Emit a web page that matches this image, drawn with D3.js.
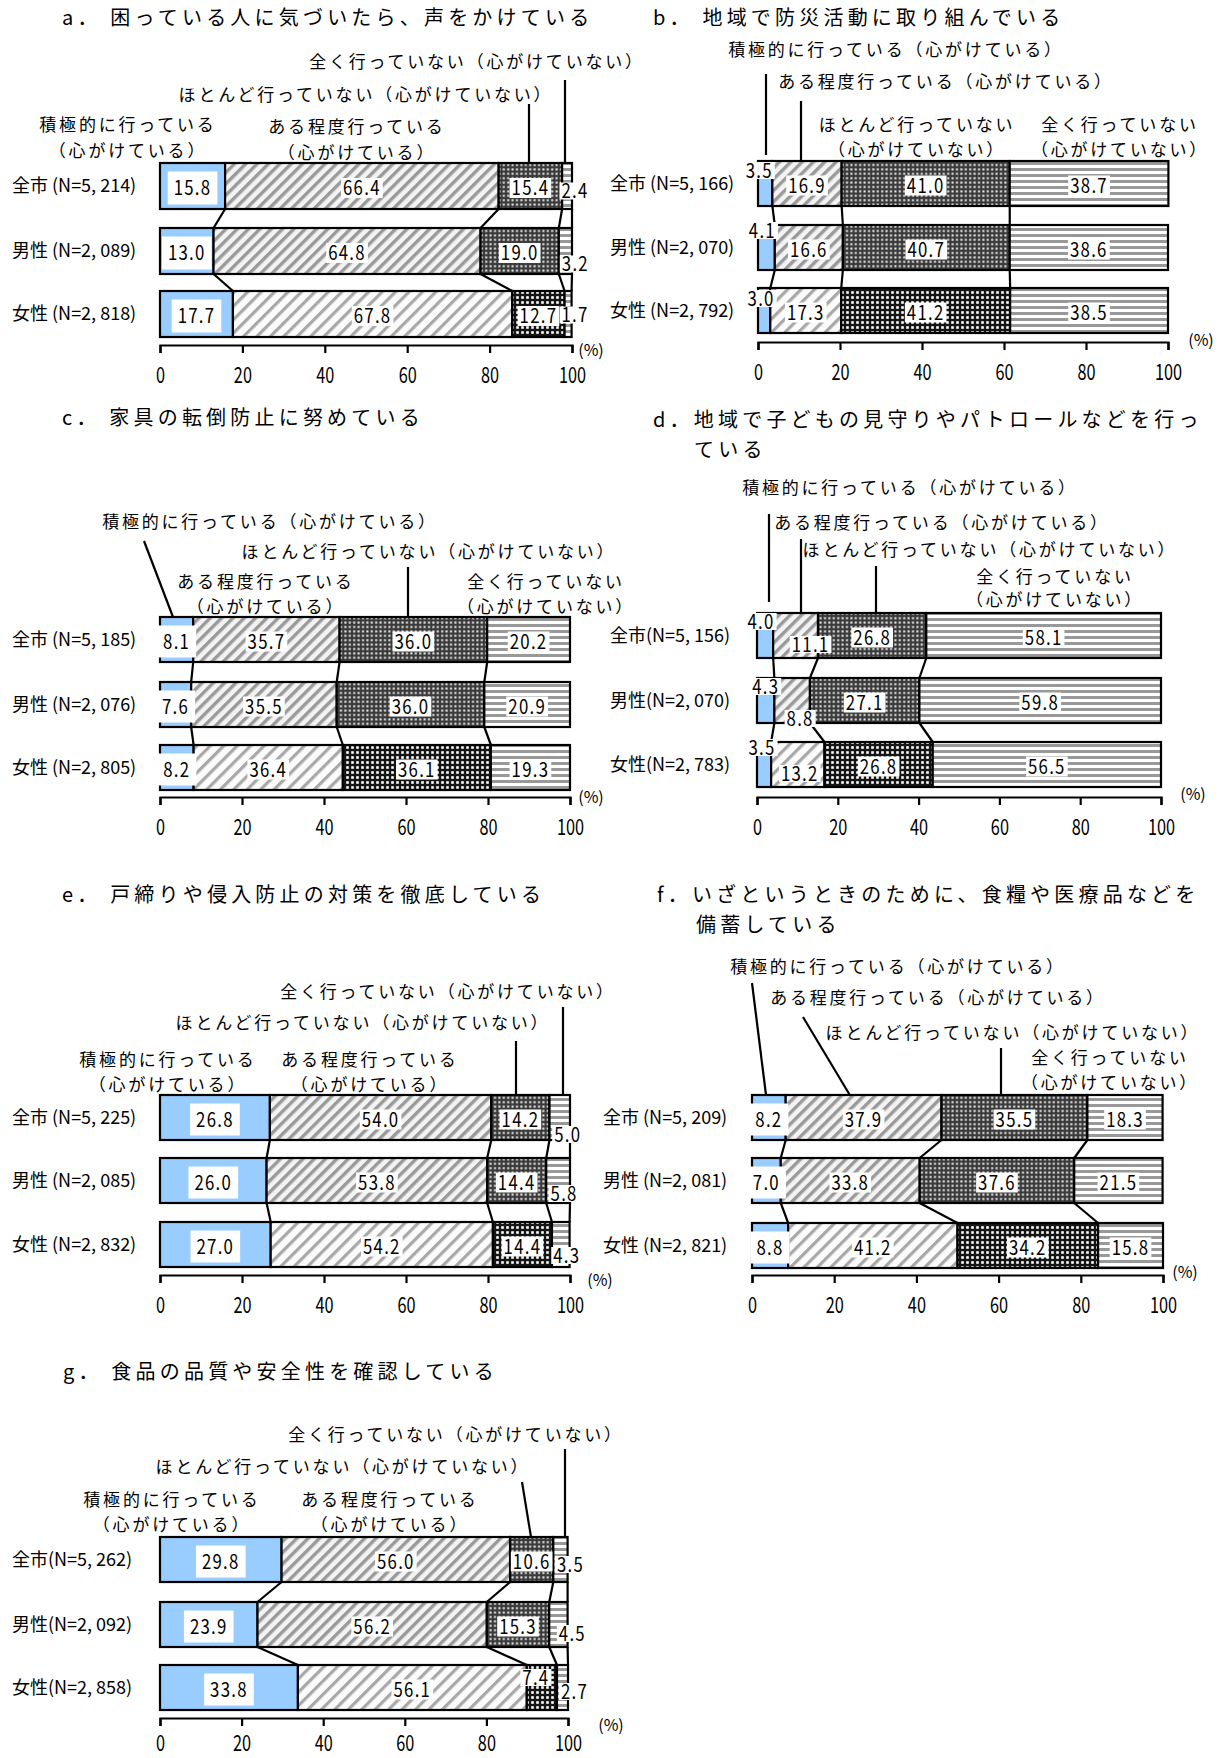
<!DOCTYPE html>
<meta charset="utf-8">
<script src="https://cdn.jsdelivr.net/npm/d3@7"></script>
<style>
body { margin: 0; background: #fff; }
text { font-family: "Noto Sans CJK JP", sans-serif; fill: #000; }
.title { font-size: 20px; letter-spacing: 4.2px; }
.leg { font-size: 17px; letter-spacing: 2.8px; }
.cat { font-size: 18px; }
.val { font-size: 20px; letter-spacing: 1.5px; }
.pct { font-size: 16px; }
.seg { stroke: #000; stroke-width: 2.2px; }
.link, .lead { stroke: #000; stroke-width: 2.2px; fill: none; }
.axis path, .axis line { stroke: #000; stroke-width: 2.2px; }
.axis text { font-size: 22px; font-family: "Noto Sans CJK JP", sans-serif; }
</style>
<svg width="1220" height="1758"></svg>
<script>

// series + groups
var seriesNames = ["積極的に行っている（心がけている）", "ある程度行っている（心がけている）",
  "ほとんど行っていない（心がけていない）", "全く行っていない（心がけていない）"];
var groups = ["全市", "男性", "女性"];
var ticks = [0, 20, 40, 60, 80, 100];

// panel titles
var titles = [
  ["a． 困っている人に気づいたら、声をかけている"],
  ["b． 地域で防災活動に取り組んでいる"],
  ["c． 家具の転倒防止に努めている"],
  ["d．地域で子どもの見守りやパトロールなどを行っ", "ている"],
  ["e． 戸締りや侵入防止の対策を徹底している"],
  ["f．いざというときのために、食糧や医療品などを", "備蓄している"],
  ["g． 食品の品質や安全性を確認している"]
];

// sample sizes (全市, 男性, 女性)
var nA = [5214, 2089, 2818];
var nB = [5166, 2070, 2792];
var nC = [5185, 2076, 2805];
var nD = [5156, 2070, 2783];
var nE = [5225, 2085, 2832];
var nF = [5209, 2081, 2821];
var nG = [5262, 2092, 2858];

// percentages per row, in series order
var valA = [[15.8, 66.4, 15.4, 2.4], [13.0, 64.8, 19.0, 3.2], [17.7, 67.8, 12.7, 1.7]];
var valB = [[3.5, 16.9, 41.0, 38.7], [4.1, 16.6, 40.7, 38.6], [3.0, 17.3, 41.2, 38.5]];
var valC = [[8.1, 35.7, 36.0, 20.2], [7.6, 35.5, 36.0, 20.9], [8.2, 36.4, 36.1, 19.3]];
var valD = [[4.0, 11.1, 26.8, 58.1], [4.3, 8.8, 27.1, 59.8], [3.5, 13.2, 26.8, 56.5]];
var valE = [[26.8, 54.0, 14.2, 5.0], [26.0, 53.8, 14.4, 5.8], [27.0, 54.2, 14.4, 4.3]];
var valF = [[8.2, 37.9, 35.5, 18.3], [7.0, 33.8, 37.6, 21.5], [8.8, 41.2, 34.2, 15.8]];
var valG = [[29.8, 56.0, 10.6, 3.5], [23.9, 56.2, 15.3, 4.5], [33.8, 56.1, 7.4, 2.7]];

var panels = [
  {n: nA, v: valA}, {n: nB, v: valB}, {n: nC, v: valC}, {n: nD, v: valD},
  {n: nE, v: valE}, {n: nF, v: valF}, {n: nG, v: valG}
];

// layout (pixels) per panel
var layouts = [
 { x0:160, x1:572, tops:[163,228,291], h:46, axisY:345, pct:[591,350], catX:12, sep:" ",
   tx:[62], ty:[18],
   legend:[
     {s:0, cx:128, y:[125,151]},
     {s:1, cx:357, y:[127,153]},
     {s:2, cx:366, y:[95], lead:[529,104,529,163]},
     {s:3, cx:477, y:[62], lead:[565,80,565,163]}],
   nudge:{"0-3":[8,5],"1-3":[10,13],"2-3":[7,1]}, edge:true },
 { x0:758, x1:1168, tops:[161,225,288], h:45, axisY:342, pct:[1201,340], catX:610, sep:" ",
   tx:[653], ty:[18],
   legend:[
     {s:0, cx:896, y:[50], lead:[766,74,766,155]},
     {s:1, cx:946, y:[82], lead:[801,101,801,165]},
     {s:2, cx:917, y:[125,150]},
     {s:3, cx:1120, y:[125,150]}],
   nudge:{"0-0":[-6,-13],"1-0":[-4,-17],"2-0":[-3,-12]} },
 { x0:160, x1:570, tops:[617,682,745], h:45, axisY:797, pct:[591,797], catX:12, sep:" ",
   tx:[62], ty:[418],
   legend:[
     {s:0, cx:270, y:[522], lead:[144,541,173,617]},
     {s:2, cx:429, y:[552], lead:[408,567,408,617]},
     {s:1, cx:266, y:[582,607]},
     {s:3, cx:546, y:[582,607]}],
   nudge:{} },
 { x0:757, x1:1161, tops:[613,678,742], h:45, axisY:797, pct:[1193,794], catX:610, sep:"",
   tx:[653,694], ty:[420,450],
   legend:[
     {s:0, cx:910, y:[488], lead:[769,514,769,602]},
     {s:1, cx:942, y:[523], lead:[801,539,801,613]},
     {s:2, cx:990, y:[550], lead:[876,566,876,613]},
     {s:3, cx:1055, y:[577,600]}],
   nudge:{"0-0":[-4,-14],"1-0":[0,-14],"2-0":[-2,-17],"0-1":[15,9],"1-1":[8,18],"2-1":[2,9]} },
 { x0:160, x1:570, tops:[1095,1158,1222], h:45, axisY:1275, pct:[600,1280], catX:12, sep:" ",
   tx:[62], ty:[895],
   legend:[
     {s:3, cx:448, y:[992], lead:[563,1007,563,1095]},
     {s:2, cx:363, y:[1023], lead:[516,1041,516,1095]},
     {s:0, cx:168, y:[1060,1085]},
     {s:1, cx:370, y:[1060,1085]}],
   nudge:{"0-3":[8,17],"1-3":[6,13],"2-3":[6,11]}, edge:true },
 { x0:752, x1:1163, tops:[1095,1158,1223], h:45, axisY:1275, pct:[1185,1272], catX:603, sep:" ",
   tx:[657,696], ty:[895,925],
   legend:[
     {s:0, cx:898, y:[967], lead:[752,983,766,1095]},
     {s:1, cx:938, y:[998], lead:[803,1017,851,1097]},
     {s:2, cx:1013, y:[1033], lead:[1001,1048,1001,1097]},
     {s:3, cx:1110, y:[1058,1083]}],
   nudge:{} },
 { x0:160, x1:568, tops:[1537,1602,1665], h:45, axisY:1718, pct:[611,1725], catX:12, sep:"",
   tx:[63], ty:[1372], tickPad:9,
   legend:[
     {s:3, cx:456, y:[1435], lead:[565,1449,565,1537]},
     {s:2, cx:343, y:[1467], lead:[522,1482,531,1537]},
     {s:0, cx:172, y:[1500,1525]},
     {s:1, cx:390, y:[1500,1525]}],
   nudge:{"0-3":[10,5],"1-3":[14,9],"2-3":[12,4],"2-2":[-6,-10]}, edge:true }
];

var svg = d3.select("svg");
var defs = svg.append("defs");

function pat(id, w, h, tf) {
  var p = defs.append("pattern").attr("id", id).attr("patternUnits", "userSpaceOnUse")
    .attr("width", w).attr("height", h);
  if (tf) p.attr("patternTransform", tf);
  return p;
}
// diagonal hatch
function hatch(id, period, sw, col, bg) {
  var p = pat(id, period, period, "rotate(45)");
  p.append("rect").attr("width", period).attr("height", period).attr("fill", bg);
  p.append("rect").attr("width", sw).attr("height", period).attr("fill", col);
}
function dots(id, period, s, col, bg) {
  var p = pat(id, period, period);
  p.append("rect").attr("width", period).attr("height", period).attr("fill", bg);
  p.append("rect").attr("x", (period - s) / 2).attr("y", (period - s) / 2)
    .attr("width", s).attr("height", s).attr("fill", col);
}
function hstripes(id, period, sw, col, bg) {
  var p = pat(id, period, period);
  p.append("rect").attr("width", period).attr("height", period).attr("fill", bg);
  p.append("rect").attr("width", period).attr("height", sw).attr("fill", col);
}
hatch("hatch0", 8, 3.4, "#9a9a9a", "#f3f3f3");
hatch("hatch1", 9.5, 3.2, "#a8a8a8", "#fbfbfb");
dots("dots0", 4.4, 2, "#eeeeee", "#3a3a3a");
dots("dots1", 5, 2.6, "#ffffff", "#151515");
hstripes("hs0", 6, 3, "#999999", "#ffffff");
hstripes("hs1", 6, 3, "#999999", "#ffffff");

var fills = [
  ["#99ccff", "url(#hatch0)", "url(#dots0)", "url(#hs0)"],
  ["#99ccff", "url(#hatch1)", "url(#dots1)", "url(#hs1)"]
];
var fmt = d3.format(".1f");
var nfmt = function(n) { return d3.format(",")(n).replace(",", ", "); };
var SX = 0.84;

panels.forEach(function(p, pi) {
  var L = layouts[pi];
  var g = svg.append("g");
  var x = d3.scaleLinear().domain([0, 100]).range([L.x0, L.x1]);

  // title
  titles[pi].forEach(function(t, i) {
    g.append("text").attr("class", "title").attr("x", L.tx[i]).attr("y", L.ty[i])
      .attr("dy", "0.36em").text(t);
  });

  // legend labels + leader lines
  L.legend.forEach(function(l) {
    var name = seriesNames[l.s], k = name.indexOf("（");
    var lines = l.y.length > 1 ? [name.slice(0, k), name.slice(k)] : [name];
    lines.forEach(function(t, i) {
      g.append("text").attr("class", "leg").attr("text-anchor", "middle")
        .attr("x", l.cx).attr("y", l.y[i]).attr("dy", "0.36em").text(t);
    });
    if (l.lead) {
      g.append("line").attr("class", "lead")
        .attr("x1", l.lead[0]).attr("y1", l.lead[1]).attr("x2", l.lead[2]).attr("y2", l.lead[3]);
    }
  });

  // stacked rows
  var rows = p.v.map(function(v, r) {
    var c = 0;
    return v.map(function(d, s) { var o = {r: r, s: s, v: d, a: c, b: c + d}; c += d; return o; });
  });

  rows.forEach(function(row, r) {
    g.selectAll(".seg-r" + r).data(row).enter().append("rect")
      .attr("class", "seg seg-r" + r)
      .attr("x", function(d) { return x(d.a); })
      .attr("width", function(d) { return x(d.b) - x(d.a); })
      .attr("y", L.tops[r]).attr("height", L.h)
      .attr("fill", function(d) { return fills[r == 2 ? 1 : 0][d.s]; });

    g.append("text").attr("class", "cat").attr("x", L.catX).attr("y", L.tops[r] + L.h / 2)
      .attr("dy", "0.36em").text(groups[r] + L.sep + "(N=" + nfmt(p.n[r]) + ")");
  });

  // series lines between rows
  var bounds = L.edge ? [0, 1, 2, 3] : [0, 1, 2];
  for (var r = 0; r < rows.length - 1; r++) {
    bounds.forEach(function(s) {
      g.append("line").attr("class", "link")
        .attr("x1", x(rows[r][s].b)).attr("y1", L.tops[r] + L.h)
        .attr("x2", x(rows[r + 1][s].b)).attr("y2", L.tops[r + 1]);
    });
  }

  // value labels
  rows.forEach(function(row, r) {
    row.forEach(function(d) {
      var nd = L.nudge[r + "-" + d.s];
      var big = d.s == 0 && !nd;
      var cx = (x(d.a) + x(d.b)) / 2 + (nd ? nd[0] : 0);
      var cy = L.tops[r] + L.h / 2 + (nd ? nd[1] : 2);
      var lg = g.append("g").attr("transform", "translate(" + cx + "," + cy + ")");
      var box = lg.append("rect").attr("fill", "#fff");
      var t = lg.append("text").attr("class", "val").attr("text-anchor", "middle")
        .attr("dy", "0.36em").attr("transform", "scale(" + SX + ",1)").text(fmt(d.v));
      var tw = t.node().getComputedTextLength() * SX;
      var bw = big ? tw + 12 : tw + 4, bh = big ? L.h - 13 : (nd ? 17 : 20);
      box.attr("x", -bw / 2).attr("y", -bh / 2).attr("width", bw).attr("height", bh);
    });
  });

  // axis
  var ax = g.append("g").attr("class", "axis").attr("transform", "translate(0," + L.axisY + ")")
    .call(d3.axisBottom(x).tickValues(ticks).tickSize(8).tickSizeOuter(8)
      .tickPadding(L.tickPad || 14));
  ax.selectAll("text").attr("transform", "scale(0.74,1)");
  g.append("text").attr("class", "pct").attr("text-anchor", "middle")
    .attr("x", L.pct[0]).attr("y", L.pct[1]).attr("dy", "0.36em").text("(%)");
});

</script>
